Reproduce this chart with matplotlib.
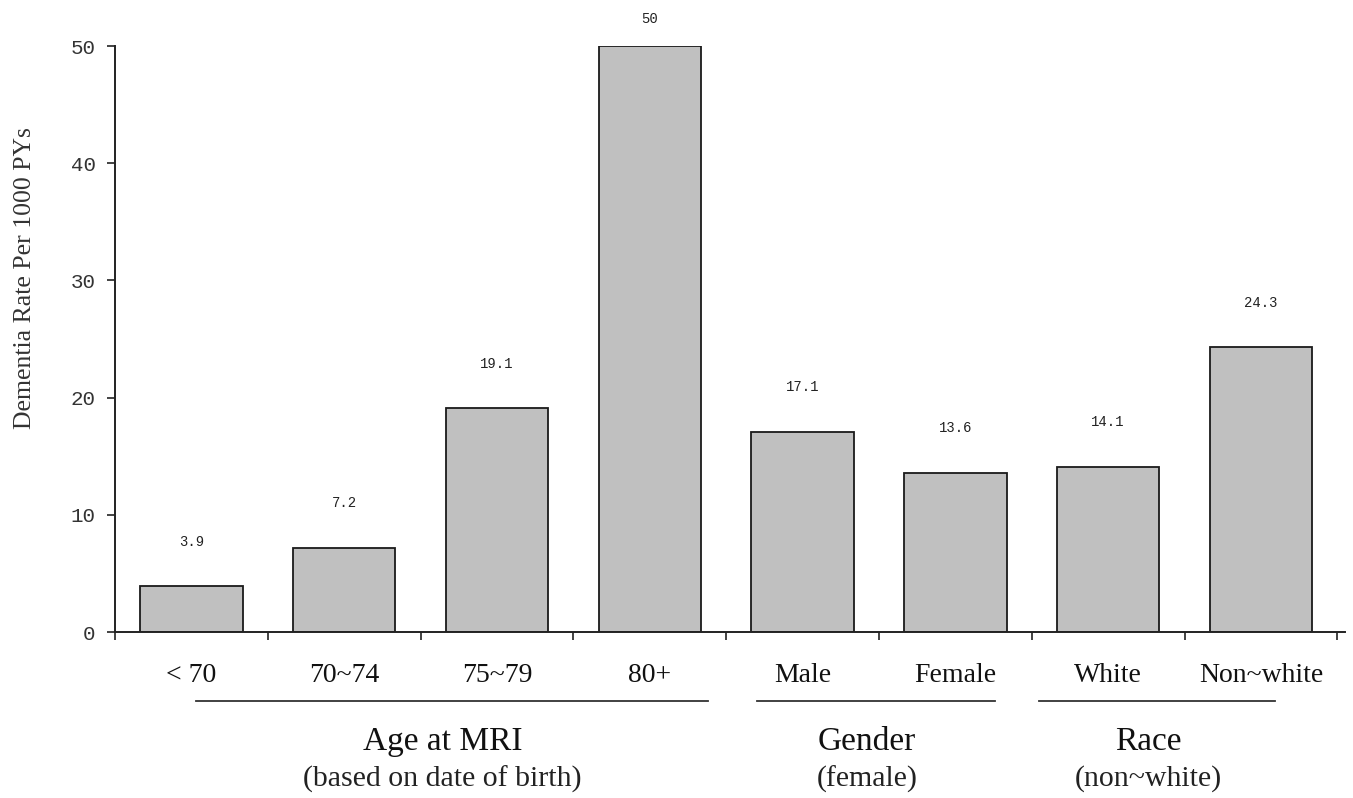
import matplotlib
matplotlib.use("Agg")
import matplotlib.pyplot as plt
import matplotlib.transforms as mtransforms

categories = ["< 70", "70~74", "75~79", "80+", "Male", "Female", "White", "Non~white"]
values = [3.9, 7.2, 19.1, 50, 17.1, 13.6, 14.1, 24.3]
value_labels = ["3.9", "7.2", "19.1", "50", "17.1", "13.6", "14.1", "24.3"]
group_titles = ["Age at MRI", "Gender", "Race"]
group_subtitles = ["(based on date of birth)", "(female)", "(non~white)"]
group_first = [0, 4, 6]
group_last = [3, 5, 7]
yticks = [0, 10, 20, 30, 40, 50]

# layout-only: underline extents relative to first/last bar index
line_pad_left = [-0.03, 0.30, 0.45]
line_pad_right = [0.38, 0.26, 0.09]

fig = plt.figure(figsize=(13.53, 7.98), dpi=100)
ax = fig.add_axes([115/1353, 1-632/798, (1345-115)/1353, (632-46)/798])

x = list(range(len(categories)))
ax.bar(x, values, width=0.67, color="#c0c0c0", edgecolor="#1a1a1a", linewidth=1.3, zorder=2)
for xi, v, lab in zip(x, values, value_labels):
    off = 32 if v < 45 else 19.5
    ax.annotate(lab, (xi, v), xytext=(0, off), textcoords="offset points",
                ha="center", va="center", fontsize=10, family="Liberation Mono", color="#222222")

ax.set_xlim(-0.5, 7.55)
ax.set_ylim(0, 50)
ax.set_yticks(yticks)
ax.set_yticklabels([str(t) for t in yticks], fontsize=15, family="Liberation Mono", color="#333333")
ax.set_xticks([i - 0.5 for i in range(len(categories) + 1)])
ax.set_xticklabels([])
ax.tick_params(axis="x", direction="out", length=6, width=1.2, color="#222222")
ax.tick_params(axis="y", direction="out", length=6, width=1.2, color="#222222", pad=8)
for s in ["top", "right"]:
    ax.spines[s].set_visible(False)
for s in ["left", "bottom"]:
    ax.spines[s].set_linewidth(1.4)
    ax.spines[s].set_color("#222222")

ax.set_ylabel("Dementia Rate Per 1000 PYs", fontsize=18.5, family="Liberation Serif",
              color="#333333")
ax.yaxis.set_label_coords((36 - 115) / 1230, (632 - 278) / 586)

trans = mtransforms.blended_transform_factory(ax.transData, fig.transFigure)
for xi, c in zip(x, categories):
    ax.text(xi, 1-676/798, c, transform=trans, ha="center", va="center",
            fontsize=20, family="Liberation Serif", color="#111111")

for title, sub, a, b, pl, pr in zip(group_titles, group_subtitles, group_first, group_last,
                                     line_pad_left, line_pad_right):
    x0 = a - pl
    x1 = b + pr
    ax.plot([x0, x1], [1-701/798]*2, transform=trans, color="#333333", lw=1.3, clip_on=False)
    cx = (x0 + x1) / 2 - 0.06
    ax.text(cx, 1-742/798, title, transform=trans, ha="center", va="center",
            fontsize=24, family="Liberation Serif", color="#111111")
    ax.text(cx, 1-779/798, sub, transform=trans, ha="center", va="center",
            fontsize=21.5, family="Liberation Serif", color="#222222")

fig.savefig("out.png", dpi=100)
